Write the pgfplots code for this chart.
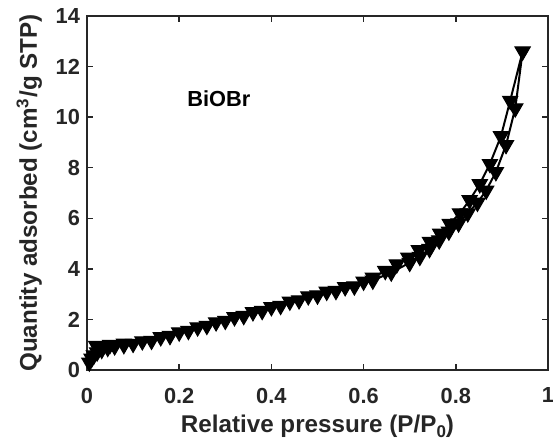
\documentclass[border=0pt]{standalone}
\usepackage{fontspec}
\setmainfont{Liberation Sans}
\usepackage{pgfplots}
\usepackage{pgfplotstable}
\pgfplotsset{compat=1.18}
\definecolor{axgray}{RGB}{38,38,38}
\pgfplotstableread{
x y
0.005 0.30
0.010 0.45
0.015 0.58
0.022 0.70
0.032 0.80
0.045 0.88
0.060 0.94
0.080 0.99
0.100 1.04
0.140 1.16
0.180 1.35
0.220 1.55
0.260 1.75
0.300 1.95
0.340 2.14
0.380 2.34
0.420 2.54
0.460 2.76
0.500 2.95
0.540 3.13
0.580 3.31
0.620 3.54
0.660 3.86
0.700 4.24
0.722 4.48
0.743 4.79
0.764 5.13
0.785 5.48
0.806 5.80
0.826 6.20
0.847 6.62
0.866 7.10
0.887 7.83
0.909 8.90
0.929 10.35
0.945 12.60
0.918 10.65
0.898 9.25
0.874 8.15
0.852 7.35
0.830 6.72
0.809 6.20
0.787 5.78
0.766 5.40
0.744 5.07
0.720 4.74
0.697 4.45
0.672 4.18
0.647 3.92
0.620 3.66
0.600 3.50
0.560 3.28
0.520 3.10
0.480 2.92
0.440 2.71
0.400 2.49
0.360 2.29
0.320 2.09
0.280 1.89
0.240 1.69
0.200 1.49
0.160 1.30
0.120 1.14
0.080 1.05
0.050 1.00
0.020 0.96
}\isotherm
\begin{document}
\begin{tikzpicture}
\begin{axis}[
  at={(0,0)}, anchor=south west,
  scale only axis, width=230.5pt, height=177pt,
  xmin=0, xmax=1, ymin=0, ymax=14,
  xtick={0,0.2,0.4,0.6,0.8,1}, ytick={0,2,4,6,8,10,12,14},
  tick align=inside, major tick length=3pt,
  axis line style={line width=0.75pt, draw=axgray},
  every tick/.style={line width=0.75pt, draw=axgray},
  /pgf/number format/assume math mode=true,
  tick label style={font=\bfseries\fontsize{10.9}{13}\selectfont, text=axgray},
  xticklabel style={yshift=-5.4pt},
  label style={font=\bfseries\fontsize{12.1}{14}\selectfont, text=axgray},
  xlabel={Relative pressure (P/P\raisebox{-0.35ex}{\fontsize{8.5}{9}\selectfont 0})},
  ylabel={Quantity adsorbed (cm\textsuperscript{3}/g STP)},
  xlabel style={at={(axis description cs:0.5,-0.178)}, anchor=base},
  ylabel style={at={(axis description cs:-0.1085,0.5)}, anchor=base},
  clip=false,
]
\addplot[black, line width=1pt, mark=triangle*, mark size=4.4pt,
  mark options={rotate=180, fill=black, line width=0.5pt}] table[x=x,y=y] {\isotherm};
\node[anchor=base, font=\bfseries\fontsize{10.9}{13}\selectfont, text=black] at (axis cs:0.286,10.43) {BiOBr};
\end{axis}
\pgfresetboundingbox
\path[use as bounding box] (-43.5pt,-36pt) rectangle (233pt,185pt);
\end{tikzpicture}
\end{document}
